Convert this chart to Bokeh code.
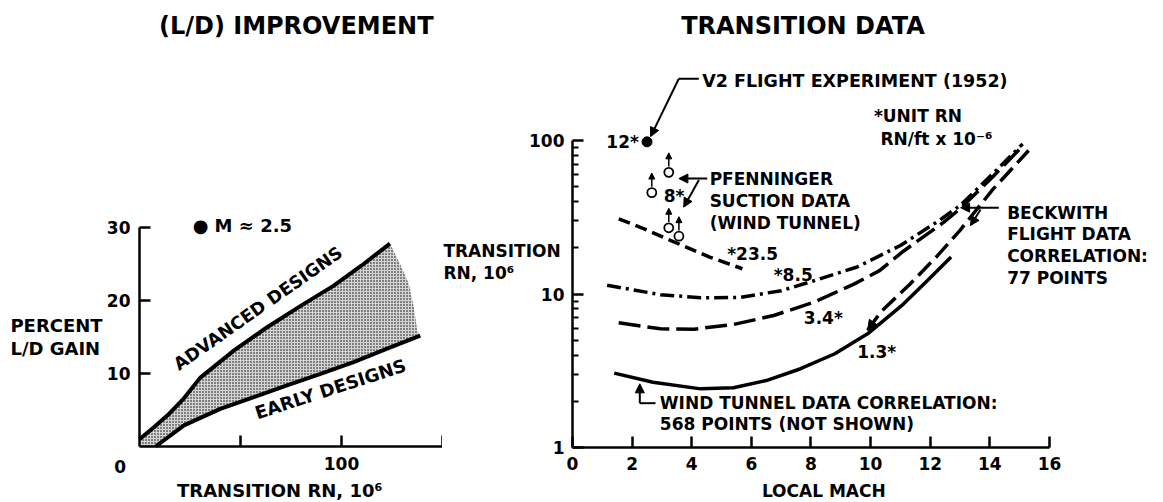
import numpy as np
from bokeh.plotting import figure
from bokeh.layouts import row
from bokeh.models import (Range1d, FixedTicker, Arrow, NormalHead,
                          ColumnDataSource, PrintfTickFormatter)
from bokeh.embed import file_html
from bokeh.resources import INLINE
from bokeh.core.properties import value

FONT = "DejaVu Sans"

# ---------------- Left panel data: percent L/D gain vs transition RN (M ~ 2.5)
ADV_X = [0, 7, 14, 22, 30, 47, 63, 80, 96, 110, 124]
ADV_Y = [1.0, 2.6, 4.3, 6.6, 9.4, 13.2, 16.3, 19.3, 22.0, 24.8, 27.8]
EARLY_X = [8, 22, 40, 56.6, 73, 89.6, 106, 122.6, 139]
EARLY_Y = [0.0, 2.9, 5.16, 6.75, 8.36, 9.96, 11.55, 13.4, 15.2]
EDGE_X = [129, 133.3, 135.8, 137.5]          # right edge of shaded band
EDGE_Y = [25.0, 22.3, 19.1, 15.9]
LEFT_XTICKS = [50, 100, 150]
LEFT_YTICKS = [10, 20, 30]

# ---------------- Right panel data: transition RN (10^6) vs local Mach
SOL_X = [1.4, 2.7, 4.3, 5.4, 6.5, 7.65, 8.8, 9.9, 11.1, 11.9, 12.7]          # 1.3*
SOL_Y = [3.05, 2.66, 2.41, 2.45, 2.73, 3.26, 4.08, 5.5, 8.6, 12.2, 17.4]
LD_X = [1.55, 2.95, 4.07, 5.4, 6.75, 8.1, 9.44, 10.3, 11.1, 12.46, 13.0, 14.1, 15.05]   # 3.4*
LD_Y = [6.49, 5.93, 5.9, 6.33, 7.24, 8.85, 11.6, 14.2, 19.0, 29.4, 35.9, 58, 90]
DD_X = [1.16, 2.95, 4.3, 5.6, 7.0, 8.1, 9.55, 11.0, 12.3, 13.0, 14.1, 15.1]   # 8.5*
DD_Y = [11.4, 9.9, 9.45, 9.5, 10.5, 12.2, 15.0, 20.7, 30.1, 37.7, 60.7, 95]
SD_X = [1.55, 2.4, 3.3, 4.6, 5.7]                                              # 23.5*
SD_Y = [30.9, 26.6, 22.3, 17.4, 14.6]
BW_X = [9.9, 10.33, 11.3, 12.2, 13.0, 14.1, 15.3]                              # Beckwith band
BW_Y = [5.8, 7.6, 11.5, 17.4, 26.0, 48.0, 86.0]
V2_X = [2.5]
V2_Y = [98]
PF_X = [3.23, 2.66, 3.23, 3.57]
PF_Y = [62, 45.8, 27.0, 23.8]
RIGHT_XTICKS = [0, 2, 4, 6, 8, 10, 12, 14, 16]
RIGHT_YTICKS = [1, 10, 100]

H = 502
X0 = 442                      # left edge of right panel on the page
LX_PX, LY_PX = 2.02, 7.3      # left panel pixels per unit
RX_PX, RY_DEC = 29.81, 153.5  # right panel pixels per Mach unit / per decade
SHIFT = 0.36                  # baseline correction (em)


def style_axes(p, xstand, ystand):
    for ax in (p.xaxis[0], p.yaxis[0]):
        ax.axis_line_width = 2.5
        ax.axis_line_color = "black"
        ax.major_tick_line_width = 2.5
        ax.major_tick_line_color = "black"
        ax.major_tick_in = 11
        ax.major_tick_out = 0
        ax.major_label_text_font = FONT
        ax.major_label_text_font_style = "bold"
        ax.major_label_text_font_size = "17px"
        ax.major_label_text_color = "black"
    p.xaxis.major_label_standoff = xstand
    p.yaxis.major_label_standoff = ystand
    p.grid.visible = False
    p.outline_line_color = None


def txt(p, x, y, t, size=17, align="left", angle=0.0, log=False):
    d = SHIFT * size
    y = y * 10 ** (d / RY_DEC) if log else y + d / LY_PX
    p.text(x=[x], y=[y], text=[t], text_font=value(FONT), text_font_style="bold",
           text_font_size=f"{size}px", text_align=align, text_baseline="alphabetic",
           text_color="black", angle=angle, angle_units="deg")


def head(size=9):
    return NormalHead(size=size, fill_color="black", line_color="black", line_width=1)


# ================= LEFT PANEL =================
pL = figure(width=X0, height=H,
            x_range=Range1d(-139 / LX_PX, (X0 - 139) / LX_PX),
            y_range=Range1d(-(H - 446) / LY_PX, 446 / LY_PX),
            output_backend="svg", toolbar_location=None,
            min_border_left=0, min_border_right=0, min_border_top=0, min_border_bottom=0)
style_axes(pL, 10, 9)
pL.xaxis.fixed_location = 0
pL.yaxis.fixed_location = 0
pL.xaxis.bounds = (0, 150)
pL.yaxis.bounds = (0, 30)
pL.xaxis.ticker = FixedTicker(ticks=LEFT_XTICKS)
pL.xaxis.major_label_overrides = {50: "", 150: ""}
pL.yaxis.ticker = FixedTicker(ticks=LEFT_YTICKS)
pL.xaxis.minor_tick_line_color = None
pL.yaxis.minor_tick_line_color = None

band_x = [0] + ADV_X + EDGE_X + EARLY_X[::-1]
band_y = [0] + ADV_Y + EDGE_Y + EARLY_Y[::-1]
pL.patch(band_x, band_y, fill_color="#d4d4d4", line_color=None,
         hatch_pattern="dot", hatch_color="black", hatch_scale=3.0, hatch_weight=1.6,
         hatch_alpha=1.0)
pL.line(ADV_X, ADV_Y, line_width=4, line_color="black")
pL.line(EARLY_X, EARLY_Y, line_width=4, line_color="black")

txt(pL, 77.6, 56.44, "(L/D) IMPROVEMENT", size=24, align="center")
txt(pL, 26.3, 29.45, "● M ≈ 2.5", size=18)
txt(pL, 58.7, 18.05, "ADVANCED DESIGNS", size=17.5, align="center", angle=35)
txt(pL, 94.5, 7.0, "EARLY DESIGNS", size=18, align="center", angle=18)
txt(pL, -63.9, 15.66, "PERCENT", size=18)
txt(pL, -63.9, 12.47, "L/D GAIN", size=18)
txt(pL, -9.55, -3.52, "0", size=17, align="center")
txt(pL, 69.4, -6.92, "TRANSITION RN, 10⁶", size=18, align="center")

# ================= RIGHT PANEL =================
pR = figure(width=1163 - X0, height=H,
            x_range=Range1d(-(572 - X0) / RX_PX, (1163 - 572) / RX_PX),
            y_range=Range1d(10 ** (-(H - 447) / RY_DEC), 10 ** (447 / RY_DEC)),
            y_axis_type="log", output_backend="svg", toolbar_location=None,
            min_border_left=0, min_border_right=0, min_border_top=0, min_border_bottom=0)
style_axes(pR, 9, 8)
pR.xaxis.fixed_location = 1
pR.yaxis.fixed_location = 0
pR.xaxis.bounds = (0, 16)
pR.yaxis.bounds = (1, 100)
pR.xaxis.ticker = FixedTicker(ticks=RIGHT_XTICKS)
pR.xaxis.minor_tick_line_color = None
pR.yaxis.ticker = FixedTicker(ticks=RIGHT_YTICKS,
                              minor_ticks=[m * 10 ** d for d in (0, 1) for m in range(2, 10)])
pR.yaxis.formatter = PrintfTickFormatter(format="%d")
pR.yaxis.minor_tick_in = 6
pR.yaxis.minor_tick_out = 0
pR.yaxis.minor_tick_line_width = 2
pR.yaxis.minor_tick_line_color = "black"

pR.line(SOL_X, SOL_Y, line_width=3.5, line_color="black")
pR.line(LD_X, LD_Y, line_width=3.5, line_color="black", line_dash="22 7")
pR.line(DD_X, DD_Y, line_width=3.5, line_color="black", line_dash="14 5 3 5")
pR.line(SD_X, SD_Y, line_width=3.5, line_color="black", line_dash="12 6")
pR.line(BW_X, BW_Y, line_width=3.5, line_color="black", line_dash="18 7")
pR.add_layout(Arrow(end=head(10), x_start=BW_X[1], y_start=BW_Y[1],
                    x_end=BW_X[0], y_end=BW_Y[0], line_alpha=0))

pR.scatter(V2_X, V2_Y, size=10, marker="circle", fill_color="black", line_color="black")
pR.scatter(PF_X, PF_Y, size=9, marker="circle", fill_color="white", line_color="black",
           line_width=1.8)
pf_src = ColumnDataSource(dict(x=PF_X, y0=[v * 1.09 for v in PF_Y], y1=[v * 1.34 for v in PF_Y]))
pR.add_layout(Arrow(end=head(6), source=pf_src, x_start="x", y_start="y0",
                    x_end="x", y_end="y1", line_width=1.5))

# leaders
pR.line([4.237, 3.566], [252.4, 252.4], line_width=2, line_color="black")
pR.add_layout(Arrow(end=head(), x_start=3.566, y_start=252.4, x_end=2.62, y_end=106,
                    line_width=2))
pR.add_layout(Arrow(end=head(), x_start=4.52, y_start=56.5, x_end=3.57, y_end=56.5,
                    line_width=2))
pR.add_layout(Arrow(end=head(), x_start=4.24, y_start=55.3, x_end=3.73, y_end=36.8,
                    line_width=2))
pR.add_layout(Arrow(end=head(), x_start=14.30, y_start=36.5, x_end=13.02, y_end=36.5,
                    line_width=2))
pR.add_layout(Arrow(end=head(), x_start=13.69, y_start=35.5, x_end=13.35, y_end=27.9,
                    line_width=2))
pR.line([2.784, 2.258], [1.944, 1.944], line_width=2, line_color="black")
pR.add_layout(Arrow(end=head(), x_start=2.258, y_start=1.944, x_end=2.258, y_end=2.6,
                    line_width=2))

txt(pR, 7.73, 490.5, "TRANSITION DATA", size=24, align="center", log=True)
txt(pR, 4.35, 220.5, "V2 FLIGHT EXPERIMENT (1952)", size=17.5, log=True)
txt(pR, 2.226, 89.6, "12*", align="right", log=True)
txt(pR, 3.06, 39.6, "8*", log=True)
txt(pR, 4.6, 50.9, "PFENNINGER", log=True)
txt(pR, 4.6, 36.8, "SUCTION DATA", log=True)
txt(pR, 4.6, 26.6, "(WIND TUNNEL)", log=True)
txt(pR, 5.19, 16.5, "*23.5", log=True)
txt(pR, 6.75, 12.1, "*8.5", log=True)
txt(pR, 7.76, 6.4, "3.4*", log=True)
txt(pR, 9.55, 3.84, "1.3*", log=True)
txt(pR, 10.11, 131.6, "*UNIT RN", log=True)
txt(pR, 10.33, 92.8, "RN/ft x 10⁻⁶", log=True)
txt(pR, 14.58, 30.9, "BECKWITH", log=True)
txt(pR, 14.58, 22.3, "FLIGHT DATA", log=True)
txt(pR, 14.58, 16.1, "CORRELATION:", log=True)
txt(pR, 14.58, 11.65, "77 POINTS", log=True)
txt(pR, 2.93, 1.787, "WIND TUNNEL DATA CORRELATION:", log=True)
txt(pR, 2.93, 1.296, "568 POINTS (NOT SHOWN)", log=True)
txt(pR, -4.33, 17.4, "TRANSITION", log=True)
txt(pR, -4.33, 12.56, "RN, 10⁶", log=True)
txt(pR, 8.43, 0.476, "LOCAL MACH", align="center", log=True)

layout = row(pL, pR)
open("out.html", "w").write(file_html(layout, INLINE))
